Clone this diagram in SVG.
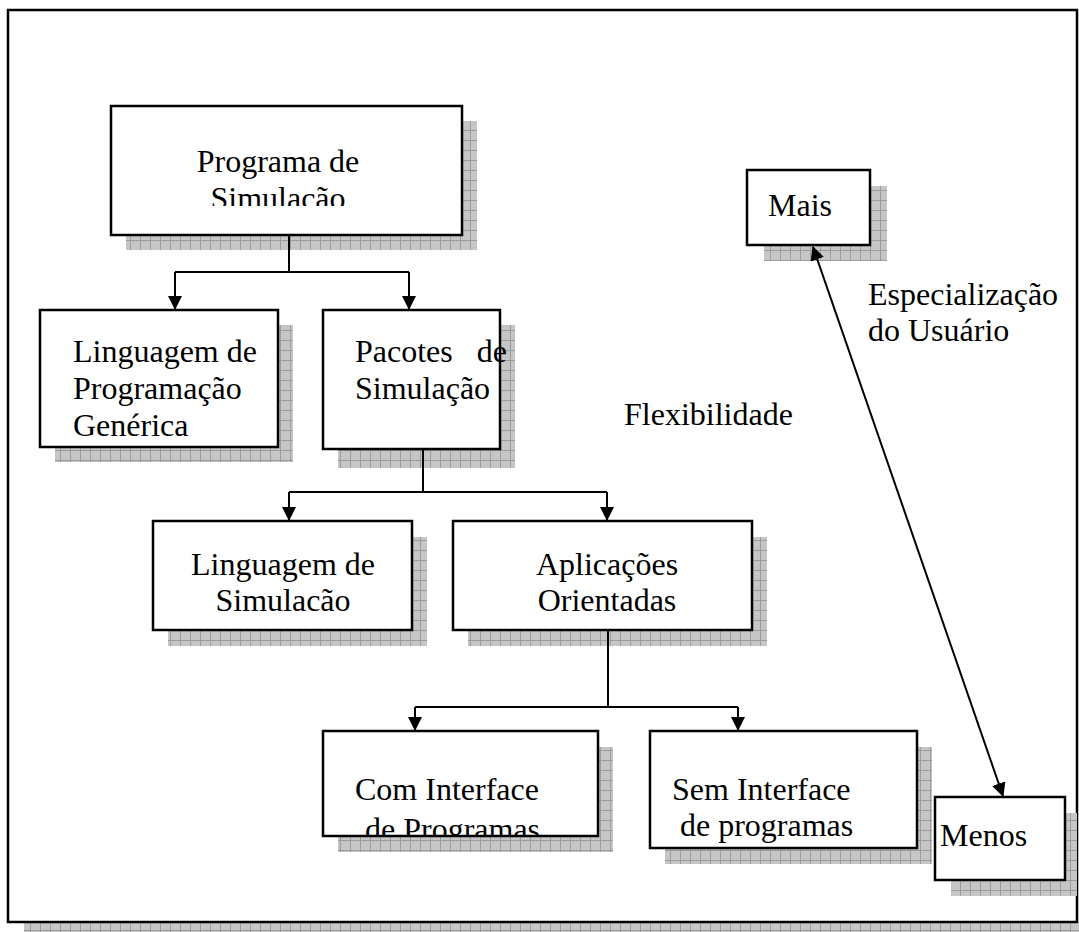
<svg xmlns="http://www.w3.org/2000/svg" width="1079" height="932" viewBox="0 0 1079 932">
<style>
.box{fill:#fff;stroke:#000;stroke-width:2.5}
.sh{fill:url(#grid)}
.t{font-family:"Liberation Serif","Times New Roman",serif;font-size:32px;fill:#000}
.c{stroke:#000;stroke-width:2;fill:none}
</style>
<defs>
<pattern id="grid" width="10" height="10" patternUnits="userSpaceOnUse">
<rect width="10" height="10" fill="#c6c6c6"/>
<path d="M0 0.5H10M0.5 0V10" stroke="#9c9c9c" stroke-width="1"/>
</pattern>
<marker id="ah" markerWidth="14" markerHeight="14" refX="13" refY="7" orient="auto" markerUnits="userSpaceOnUse">
<path d="M0 0L14 7L0 14z" fill="#000"/>
</marker>
<marker id="as" markerWidth="14" markerHeight="14" refX="1" refY="7" orient="auto" markerUnits="userSpaceOnUse">
<path d="M14 0L0 7L14 14z" fill="#000"/>
</marker>
<clipPath id="clipA"><rect x="111" y="106" width="351" height="100"/></clipPath>
<clipPath id="clipCom"><rect x="323" y="731" width="275" height="105"/></clipPath>
</defs>
<rect width="1079" height="932" fill="#fff"/>
<g id="frame">
<rect class="sh" x="24" y="922" width="1055" height="10"/>
<rect x="8" y="10" width="1069" height="912" fill="#fff" stroke="#000" stroke-width="2.5"/>
</g>
<g id="n-programa">
<rect class="sh" x="126" y="121" width="351" height="129"/>
<rect class="box" x="111" y="106" width="351" height="129"/>
<g clip-path="url(#clipA)">
<text class="t" x="278" y="172" text-anchor="middle">Programa de</text>
<text class="t" x="278" y="209" text-anchor="middle">Simulação</text>
</g>
</g>
<g id="n-linguagem-prog">
<rect class="sh" x="55" y="325" width="238" height="137"/>
<rect class="box" x="40" y="310" width="238" height="137"/>
<text class="t" x="73" y="362">Linguagem de</text>
<text class="t" x="73" y="399">Programação</text>
<text class="t" x="73" y="436">Genérica</text>
</g>
<g id="n-pacotes">
<rect class="sh" x="338" y="325" width="177" height="143"/>
<rect class="box" x="323" y="310" width="177" height="139"/>
<text class="t" x="355" y="362" xml:space="preserve">Pacotes   de</text>
<text class="t" x="355" y="399">Simulação</text>
</g>
<g id="n-linguagem-sim">
<rect class="sh" x="168" y="537" width="259" height="109"/>
<rect class="box" x="153" y="521" width="259" height="109"/>
<text class="t" x="283" y="575" text-anchor="middle">Linguagem de</text>
<text class="t" x="283" y="611" text-anchor="middle">Simulacão</text>
</g>
<g id="n-aplicacoes">
<rect class="sh" x="468" y="537" width="299" height="109"/>
<rect class="box" x="453" y="521" width="299" height="109"/>
<text class="t" x="607" y="575" text-anchor="middle">Aplicações</text>
<text class="t" x="607" y="611" text-anchor="middle">Orientadas</text>
</g>
<g id="n-com">
<rect class="sh" x="338" y="747" width="275" height="105"/>
<rect class="box" x="323" y="731" width="275" height="105"/>
<g clip-path="url(#clipCom)">
<text class="t" x="355" y="800">Com Interface</text>
<text class="t" x="365" y="840">de Programas</text>
</g>
</g>
<g id="n-sem">
<rect class="sh" x="665" y="747" width="267" height="117"/>
<rect class="box" x="650" y="731" width="267" height="117"/>
<text class="t" x="672" y="800">Sem Interface</text>
<text class="t" x="680" y="836">de programas</text>
</g>
<g id="n-mais">
<rect class="sh" x="764" y="186" width="123" height="75"/>
<rect class="box" x="747" y="170" width="123" height="75"/>
<text class="t" x="768" y="216">Mais</text>
</g>
<g id="n-menos">
<rect class="sh" x="951" y="813" width="126" height="83"/>
<rect class="box" x="935" y="797" width="130" height="83"/>
<text class="t" x="940" y="846">Menos</text>
</g>
<g id="labels">
<text class="t" x="868" y="305">Especialização</text>
<text class="t" x="868" y="341">do Usuário</text>
<text class="t" x="624" y="425">Flexibilidade</text>
</g>
<g id="connectors">
<path class="c" d="M289 236V272M175 272H409"/>
<path class="c" d="M175 272V309" marker-end="url(#ah)"/>
<path class="c" d="M409 272V309" marker-end="url(#ah)"/>
<path class="c" d="M423 450V492M289 492H607"/>
<path class="c" d="M289 492V520" marker-end="url(#ah)"/>
<path class="c" d="M607 492V520" marker-end="url(#ah)"/>
<path class="c" d="M608 631V707M415 707H738"/>
<path class="c" d="M415 707V730" marker-end="url(#ah)"/>
<path class="c" d="M738 707V730" marker-end="url(#ah)"/>
<path class="c" d="M813 247L1003 796" marker-start="url(#as)" marker-end="url(#ah)"/>
</g>
</svg>
